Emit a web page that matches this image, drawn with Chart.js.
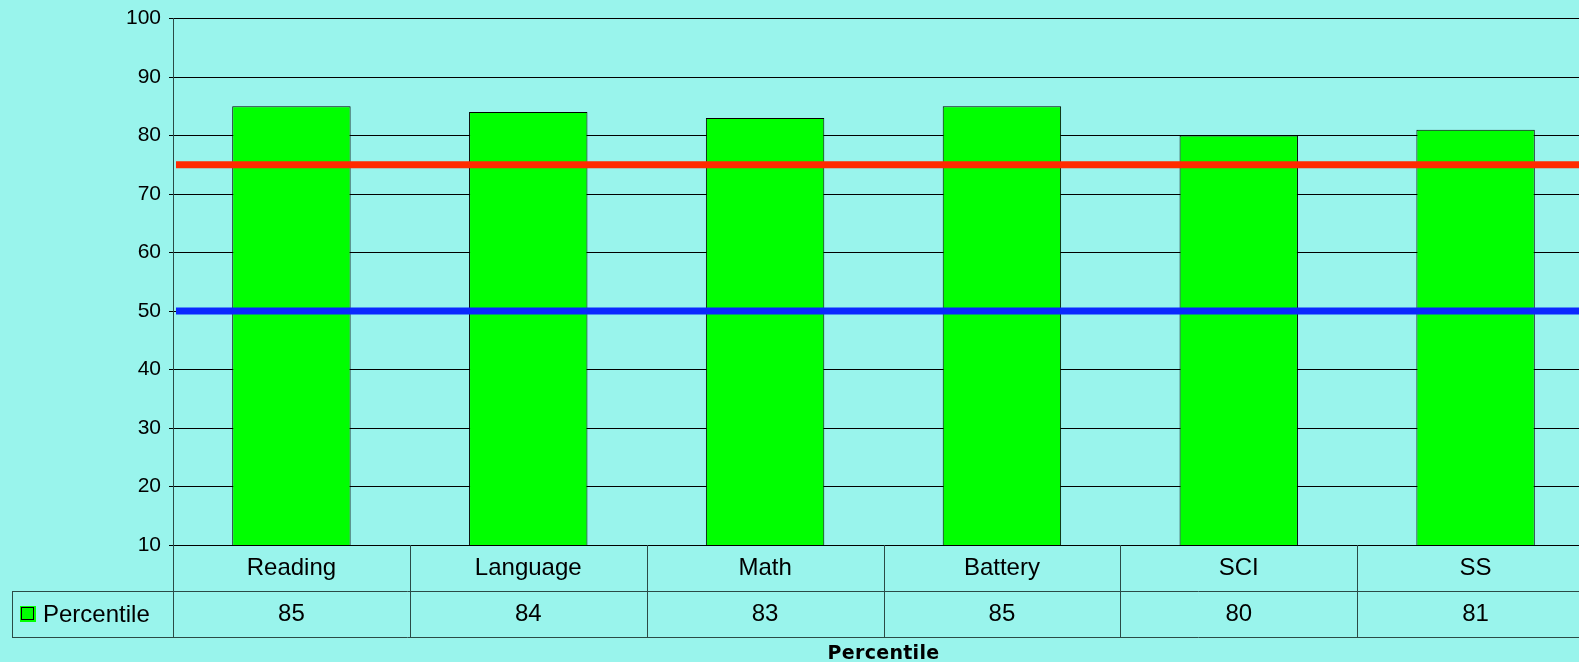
<!DOCTYPE html>
<html>
<head>
<meta charset="utf-8">
<title>Percentile</title>
<script src="https://cdn.jsdelivr.net/npm/chart.js@4/dist/chart.umd.min.js"></script>
<style>
    html, body {
        margin: 0;
        padding: 0;
        overflow: hidden;
        background: #99f4ec;
    }
    #wrap {
        width: 1594px;
        height: 662px;
    }
</style>
</head>
<body>
<div id="wrap"><canvas id="mainChart" width="1594" height="662"></canvas></div>
<script>
"use strict";

const categories = ["Reading", "Language", "Math", "Battery", "SCI", "SS"];
const percentiles = [85, 84, 83, 85, 80, 81];
const seriesName = "Percentile";
const axisTitle = "Percentile";
const yMin = 10;
const yMax = 100;
const yStep = 10;
// horizontal markers: top quartile and median
const markerLevels = [75, 50];

const ctxMainChart = document.getElementById("mainChart");

const BAR_GREEN = "#00ff00";
const LINE_DARK = "#2b4a46";
const markerColors = ["#ff2a00", "#0a28ff"];
const ROW_H = 46;
const TABLE_LEFT = 12;
const TEXT_FONT = "Liberation Sans, Arial, sans-serif";

// category name on the first line, value on the second: the x axis draws the data table
const tableLabels = categories.map((c, i) => [c, String(percentiles[i])]);

const markerLines = {
    id: "markerLines",
    afterDatasetsDraw(chart) {
        const { ctx, chartArea } = chart;
        const y = chart.scales.y;
        ctx.save();
        ctx.lineWidth = 7;
        markerLevels.forEach((level, i) => {
            const py = y.getPixelForValue(level);
            ctx.strokeStyle = markerColors[i];
            ctx.beginPath();
            ctx.moveTo(chartArea.left + 3, py);
            ctx.lineTo(chart.width, py);
            ctx.stroke();
        });
        ctx.restore();
    },
};

const dataTable = {
    id: "dataTable",
    afterDraw(chart) {
        const { ctx, chartArea } = chart;
        const x = chart.scales.x;
        const top = chartArea.bottom;
        const mid = top + ROW_H;
        const bottom = mid + ROW_H;
        const right = chart.width;

        ctx.save();
        ctx.strokeStyle = LINE_DARK;
        ctx.lineWidth = 1;
        ctx.beginPath();
        // column separators
        const edges = [chartArea.left];
        for (let i = 0; i < categories.length - 1; i++) {
            edges.push(Math.round((x.getPixelForValue(i) + x.getPixelForValue(i + 1)) / 2));
        }
        edges.forEach((ex) => {
            ctx.moveTo(ex + 0.5, top);
            ctx.lineTo(ex + 0.5, bottom);
        });
        // value row frame
        ctx.moveTo(TABLE_LEFT, Math.round(mid) + 0.5);
        ctx.lineTo(right, Math.round(mid) + 0.5);
        ctx.moveTo(TABLE_LEFT, Math.round(bottom) + 0.5);
        ctx.lineTo(right, Math.round(bottom) + 0.5);
        ctx.moveTo(TABLE_LEFT + 0.5, Math.round(mid));
        ctx.lineTo(TABLE_LEFT + 0.5, Math.round(bottom) + 1);
        ctx.stroke();

        // legend key in the row header
        const ky = Math.round(mid + ROW_H / 2 - 7);
        ctx.fillStyle = BAR_GREEN;
        ctx.fillRect(20, ky - 1, 16, 16);
        ctx.strokeStyle = "#000";
        ctx.strokeRect(21.5, ky + 0.5, 12, 12);
        ctx.fillStyle = "#000";
        ctx.font = "24px " + TEXT_FONT;
        ctx.textBaseline = "middle";
        ctx.textAlign = "left";
        ctx.fillText(seriesName, 43, mid + ROW_H / 2 + 1);

        // axis title under the table, slightly tracked
        ctx.font = "bold 19px DejaVu Sans";
        ctx.letterSpacing = "0.3px";
        ctx.textAlign = "center";
        ctx.textBaseline = "alphabetic";
        ctx.fillText(axisTitle, (x.left + x.right) / 2, 659);
        ctx.restore();
    },
};

Chart.defaults.font.family = TEXT_FONT;
Chart.defaults.color = "#000";

const mainChart = new Chart(ctxMainChart, {
    type: "bar",
    data: {
        labels: tableLabels,
        datasets: [
            {
                label: seriesName,
                data: percentiles,
                backgroundColor: BAR_GREEN,
                borderColor: "#000",
                borderWidth: 1,
                borderSkipped: false,
                barPercentage: 0.5,
                categoryPercentage: 1,
            },
        ],
    },
    options: {
        responsive: false,
        animation: false,
        devicePixelRatio: 1,
        layout: {
            padding: { top: 14, left: 0, right: 0, bottom: 0 },
        },
        plugins: {
            legend: { display: false },
            tooltip: { enabled: false },
        },
        scales: {
            y: {
                min: yMin,
                max: yMax,
                ticks: {
                    stepSize: yStep,
                    padding: 8,
                    font: { size: 21, lineHeight: 1 },
                },
                grid: {
                    color: "#000",
                    lineWidth: 1,
                    tickLength: 4,
                },
                border: { color: LINE_DARK, width: 1 },
                afterFit(scale) {
                    scale.width = 173;
                },
            },
            x: {
                grid: { display: false, drawTicks: false },
                border: { color: "#000", width: 1 },
                ticks: {
                    padding: 0,
                    maxRotation: 0,
                    autoSkip: false,
                    font: { size: 24, lineHeight: ROW_H / 24 },
                },
                afterFit(scale) {
                    scale.height = 117;
                },
            },
        },
    },
    plugins: [markerLines, dataTable],
});
</script>
</body>
</html>
